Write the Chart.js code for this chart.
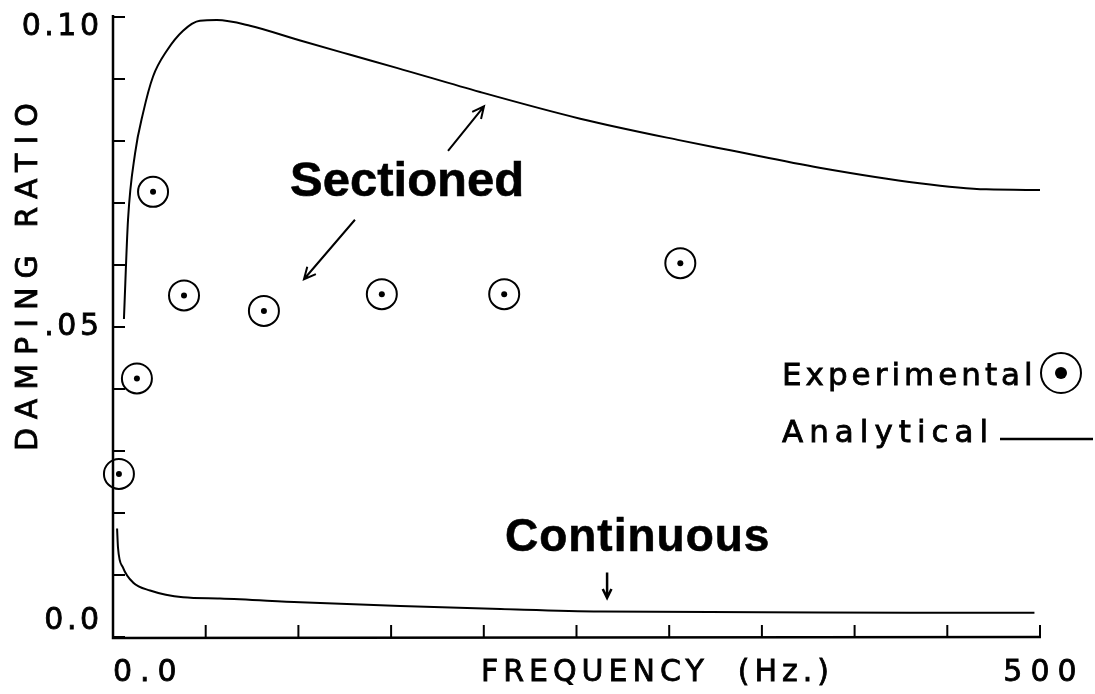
<!DOCTYPE html>
<html>
<head>
<meta charset="utf-8">
<title>Damping ratio vs frequency</title>
<script src="https://cdn.jsdelivr.net/npm/chart.js@4.4.1/dist/chart.umd.min.js"></script>
<style>
  html, body { margin: 0; padding: 0; background: #fff; }
  #wrap { width: 1095px; height: 694px; }
</style>
</head>
<body>
<div id="wrap"><canvas id="chart" width="1095" height="694"></canvas></div>
<script>
// analytical curves
const sectionedFreq = [5.9, 8.1, 11.9, 16.2, 21.6, 29.1, 37.8, 46.9, 56, 73.9, 101, 128, 153, 198, 252, 306, 333, 381, 435, 471, 500];
const sectionedDamping = [0.0513, 0.0673, 0.0780, 0.0845, 0.0904, 0.0946, 0.0978, 0.0994, 0.0995, 0.0986, 0.0962, 0.0939, 0.0918, 0.0879, 0.0836, 0.0801, 0.0785, 0.0757, 0.0732, 0.0722, 0.0721];

const continuousFreq = [2.2, 2.7, 5.4, 10.8, 20, 37.8, 57.7, 101, 155, 209, 263, 350, 430, 497];
const continuousDamping = [0.0175, 0.0144, 0.0112, 0.0088, 0.0075, 0.0064, 0.0062, 0.0056, 0.0050, 0.0045, 0.0041, 0.0040, 0.0039, 0.0039];

// experimental points
const experimentalFreq = [3.2, 12.9, 21.6, 38.3, 81.4, 145, 211, 306];
const experimentalDamping = [0.0263, 0.0417, 0.0718, 0.0551, 0.0526, 0.0553, 0.0553, 0.0603];

const xTicks = [0, 50, 100, 150, 200, 250, 300, 350, 400, 450, 500];
const xTickLabels = ["0.0", "", "", "", "", "", "", "", "", "", "500"];
const yTicks = [0, 0.01, 0.02, 0.03, 0.04, 0.05, 0.06, 0.07, 0.08, 0.09, 0.10];
const yTickLabels = ["0.0", "", "", "", "", ".05", "", "", "", "", "0.10"];

const FONT = '"DejaVu Sans", sans-serif';
const BOLD = '"Liberation Sans", Arial, sans-serif';

const toPoints = (xs, ys) => xs.map((x, i) => ({ x: x, y: ys[i] }));

const drawText = (ctx, str, x, y, font, align, spacing, weight) => {
  ctx.save();
  ctx.font = font;
  ctx.letterSpacing = spacing + "px";
  ctx.textAlign = align;
  ctx.fillStyle = "#000";
  ctx.strokeStyle = "#000";
  // canvas counts the trailing spacing too, so nudge it back
  if (align === "right") x += spacing;
  if (align === "center") x += spacing / 2;
  ctx.fillText(str, x, y);
  if (weight) {
    // thicken a bit, the printed lettering is heavier than the screen font
    ctx.lineWidth = weight;
    ctx.strokeText(str, x, y);
  }
  ctx.restore();
};

const drawArrow = (ctx, x1, y1, x2, y2, head) => {
  const ang = Math.atan2(y2 - y1, x2 - x1);
  ctx.beginPath();
  ctx.moveTo(x1, y1);
  ctx.lineTo(x2, y2);
  ctx.moveTo(x2 - head * Math.cos(ang - 0.45), y2 - head * Math.sin(ang - 0.45));
  ctx.lineTo(x2, y2);
  ctx.lineTo(x2 - head * Math.cos(ang + 0.45), y2 - head * Math.sin(ang + 0.45));
  ctx.stroke();
};

const paperAxes = {
  id: "paperAxes",
  beforeDatasetsDraw(chart) {
    const { ctx, chartArea: a, scales: { x, y } } = chart;
    ctx.save();
    ctx.strokeStyle = "#000";
    ctx.lineCap = "butt";

    // axis lines
    ctx.lineWidth = 2.5;
    ctx.beginPath();
    ctx.moveTo(a.left, a.top - 2);
    ctx.lineTo(a.left, a.bottom + 1);
    ctx.lineTo(a.right + 1, a.bottom);
    ctx.stroke();

    // inward ticks
    ctx.lineWidth = 2;
    yTicks.forEach((v) => {
      const py = y.getPixelForValue(v);
      ctx.beginPath();
      ctx.moveTo(a.left, py);
      ctx.lineTo(a.left + 12, py);
      ctx.stroke();
    });
    xTicks.forEach((v) => {
      const px = x.getPixelForValue(v);
      ctx.beginPath();
      ctx.moveTo(px, a.bottom);
      ctx.lineTo(px, a.bottom - 12);
      ctx.stroke();
    });
    ctx.restore();

    // tick labels
    ctx.save();
    ctx.textBaseline = "middle";
    yTickLabels.forEach((lab, i) => {
      if (!lab) return;
      let py = y.getPixelForValue(yTicks[i]);
      py = Math.min(Math.max(py, a.top + 10), a.bottom - 16);
      drawText(ctx, lab, 99, py, "30px " + FONT, "right", 3.5, 0.8);
    });
    xTickLabels.forEach((lab, i) => {
      if (!lab) return;
      ctx.font = "30px " + FONT;
      ctx.letterSpacing = "8px";
      const w = ctx.measureText(lab).width;
      let px = x.getPixelForValue(xTicks[i]);
      px = Math.max(px, a.left + w / 2 - 4);
      drawText(ctx, lab, px, 673, "30px " + FONT, "center", 8, 0.8);
    });

    // axis titles
    drawText(ctx, "FREQUENCY  (Hz.)", 655, 673, "30px " + FONT, "center", 5, 0.8);
    ctx.save();
    ctx.translate(29, 277);
    ctx.rotate(-Math.PI / 2);
    drawText(ctx, "DAMPING RATIO", 0, 0, "30px " + FONT, "center", 9, 0.8);
    ctx.restore();
    ctx.restore();
  },
  afterDatasetsDraw(chart) {
    const { ctx, scales: { x, y } } = chart;
    ctx.save();
    ctx.textBaseline = "alphabetic";

    // curve labels + arrows
    drawText(ctx, "Sectioned", x.getPixelForValue(95.5), y.getPixelForValue(0.0712), "bold 49px " + BOLD, "left", 0, 0.6);
    drawText(ctx, "Continuous", x.getPixelForValue(211.4), y.getPixelForValue(0.0139), "bold 46px " + BOLD, "left", 1, 0.6);

    ctx.strokeStyle = "#000";
    ctx.lineWidth = 2;
    drawArrow(ctx, x.getPixelForValue(180.7), y.getPixelForValue(0.0784), x.getPixelForValue(200.1), y.getPixelForValue(0.0856), 13);
    drawArrow(ctx, x.getPixelForValue(130.5), y.getPixelForValue(0.0673), x.getPixelForValue(103.0), y.getPixelForValue(0.0577), 13);
    ctx.lineWidth = 2.5;
    drawArrow(ctx, x.getPixelForValue(266.5), y.getPixelForValue(0.0104), x.getPixelForValue(266.5), y.getPixelForValue(0.0063), 10);

    // legend
    ctx.lineWidth = 2;
    drawText(ctx, "Experimental", 782, 385, "31px " + FONT, "left", 4, 0.8);
    ctx.beginPath();
    ctx.arc(1061, 373, 20, 0, Math.PI * 2);
    ctx.stroke();
    ctx.beginPath();
    ctx.arc(1061, 373, 6, 0, Math.PI * 2);
    ctx.fillStyle = "#000";
    ctx.fill();

    drawText(ctx, "Analytical", 782, 442, "31px " + FONT, "left", 6, 0.8);
    ctx.lineWidth = 2.5;
    ctx.beginPath();
    ctx.moveTo(1000, 439);
    ctx.lineTo(1093, 439);
    ctx.stroke();
    ctx.restore();
  },
};

const lineStyle = {
  showLine: true,
  pointRadius: 0,
  borderWidth: 2,
  borderColor: "#000",
  fill: false,
  cubicInterpolationMode: "monotone",
};

new Chart(document.getElementById("chart"), {
  type: "scatter",
  data: {
    datasets: [
      { label: "Sectioned", data: toPoints(sectionedFreq, sectionedDamping), ...lineStyle },
      { label: "Continuous", data: toPoints(continuousFreq, continuousDamping), ...lineStyle },
      {
        label: "Experimental",
        data: toPoints(experimentalFreq, experimentalDamping),
        showLine: false,
        pointRadius: 15,
        pointBorderWidth: 2,
        pointBorderColor: "#000",
        pointBackgroundColor: "rgba(0,0,0,0)",
        clip: false,
      },
      {
        label: "Experimental dot",
        data: toPoints(experimentalFreq, experimentalDamping),
        showLine: false,
        pointRadius: 3,
        pointBorderWidth: 0,
        pointBackgroundColor: "#000",
        clip: false,
      },
    ],
  },
  options: {
    responsive: false,
    animation: false,
    events: [],
    layout: { padding: { top: 13, right: 55, left: 0, bottom: 0 } },
    plugins: { legend: { display: false }, tooltip: { enabled: false } },
    scales: {
      x: {
        type: "linear",
        min: 0,
        max: 500,
        grid: { display: false },
        border: { display: false },
        ticks: { display: false },
        afterFit: (s) => { s.height = 57; },
      },
      y: {
        min: 0,
        max: 0.1,
        grid: { display: false },
        border: { display: false },
        ticks: { display: false },
        afterFit: (s) => { s.width = 113; },
      },
    },
  },
  plugins: [paperAxes],
});
</script>
</body>
</html>
